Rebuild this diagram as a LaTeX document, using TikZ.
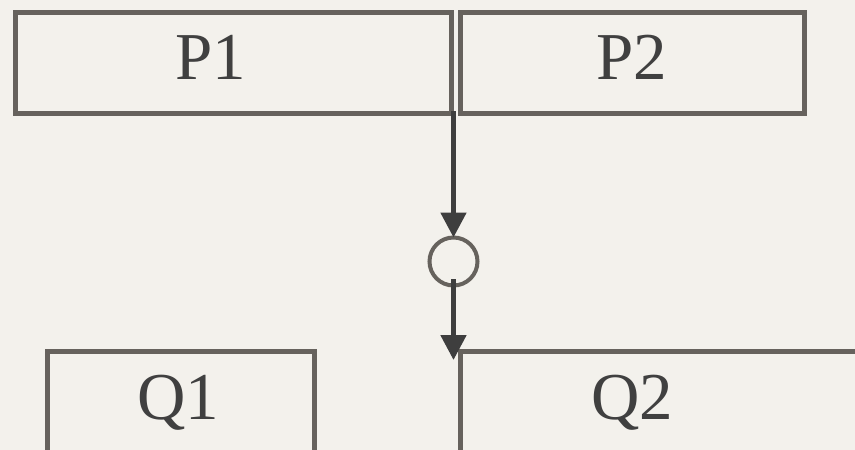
\documentclass[tikz,border=0pt]{standalone}
\usepackage{fontspec}
\setmainfont{Liberation Serif}
\usetikzlibrary{arrows.meta}
\definecolor{bgc}{RGB}{243,241,236}
\definecolor{boxc}{RGB}{102,98,93}
\definecolor{arrc}{RGB}{62,62,62}
\definecolor{txtc}{RGB}{64,64,64}
\tikzset{
  box/.style={draw=boxc, line width=5pt, inner sep=0pt, outer sep=0pt},
  lbl/.style={text=txtc, font=\fontsize{67}{72}\selectfont, anchor=base, inner sep=0pt},
  conn/.style={draw=arrc, line width=5pt, -{Triangle[width=25pt,length=25pt]}},
  junction/.style={draw=boxc, circle, line width=4pt, minimum size=48pt, inner sep=0pt, outer sep=0pt}
}
\begin{document}
\begin{tikzpicture}[x=1pt,y=-1pt]
\fill[bgc] (0,0) rectangle (855,450);
\useasboundingbox (0,0) rectangle (855,450);
\begin{scope}
\clip (0,0) rectangle (855,450);
\node[box, minimum width=436pt, minimum height=101pt] (p1) at (233.5,63) {};
\node[box, minimum width=344pt, minimum height=101pt] (p2) at (632.5,63) {};
\node[box, minimum width=267pt, minimum height=140pt] (q1) at (180.5,421) {};
\node[box, minimum width=440pt, minimum height=140pt] (q2) at (680.5,421.5) {};
\node[lbl] (p1t) at (211,79) {P1};
\node[lbl] (p2t) at (632,79) {P2};
\node[lbl] (q1t) at (178,419) {Q1};
\node[lbl] (q2t) at (632,419) {Q2};
\node[junction] (c) at (453.5,261.5) {};
\coordinate (s) at (453.5,111);
\coordinate (o) at (453.5,279);
\coordinate (e) at (453.5,360);
\draw[conn] (s) -- (c.north);
\draw[conn] (o) -- (e);
\end{scope}
\end{tikzpicture}
\end{document}
